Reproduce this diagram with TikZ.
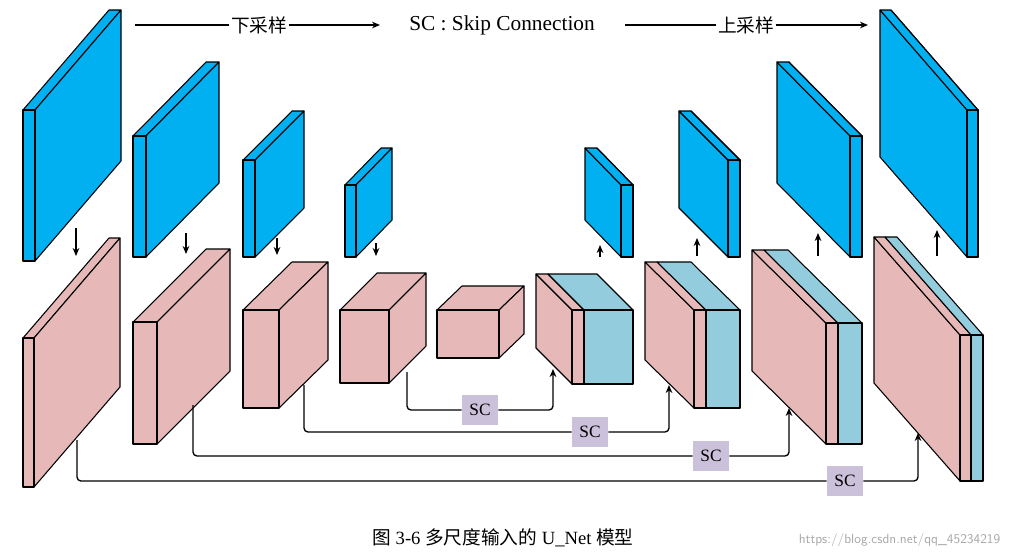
\documentclass[tikz,border=0pt]{standalone}
\usepackage{fontspec}
\setmainfont{Liberation Serif}
\newfontfamily\cjk{Noto Sans CJK SC}
\usetikzlibrary{arrows.meta}
\definecolor{cblue}{HTML}{00B0F0}
\definecolor{cpink}{HTML}{E6B9B8}
\definecolor{clb}{HTML}{93CDDD}
\definecolor{clav}{HTML}{CCC1DA}
\tikzset{face/.style={draw=black,line width=0.8pt,line join=round},
 arr/.style={-{Stealth[length=6pt,width=5pt]},line width=0.8pt},
 skip/.style={line width=1pt,rounded corners=3pt,-{Stealth[length=6pt,width=5pt]}},
 sc/.style={fill=clav,minimum width=27pt,minimum height=22pt,inner sep=0pt,font=\fontsize{13}{13}\selectfont}}
% encoder cube: x1 y1 x2 y2 dx dy color
\newcommand\cubeL[7]{%
 \filldraw[face,fill=#7] (#1,#2) -- ({#1+#5},{#2+#6}) -- ({#3+#5},{#2+#6}) -- (#3,#2) -- cycle;
 \filldraw[face,fill=#7] (#3,#2) -- ({#3+#5},{#2+#6}) -- ({#3+#5},{#4+#6}) -- (#3,#4) -- cycle;
 \filldraw[face,fill=#7] (#1,#2) rectangle (#3,#4);}
% decoder cube: x1 xm x2 y1 y2 dx dy c1 c2
\newcommand\cubeR[9]{%
 \filldraw[face,fill=#8] (#1,#4) -- ({#1+#6},{#4+#7}) -- ({#1+#6},{#5+#7}) -- (#1,#5) -- cycle;
 \filldraw[face,fill=#8] (#1,#4) -- ({#1+#6},{#4+#7}) -- ({#2+#6},{#4+#7}) -- (#2,#4) -- cycle;
 \filldraw[face,fill=#9] (#2,#4) -- ({#2+#6},{#4+#7}) -- ({#3+#6},{#4+#7}) -- (#3,#4) -- cycle;
 \filldraw[face,fill=#8] (#1,#4) rectangle (#2,#5);
 \filldraw[face,fill=#9] (#2,#4) rectangle (#3,#5);}
\begin{document}
\begin{tikzpicture}[x=0.75pt,y=-0.75pt]
\useasboundingbox (0,0) rectangle (1013,558);
% encoder
\cubeL{23}{110}{35}{261}{86}{-100}{cblue}
\cubeL{133}{136}{146}{257}{73}{-74}{cblue}
\cubeL{243}{160}{255}{257}{49}{-49}{cblue}
\cubeL{345}{185}{356}{257}{36}{-37}{cblue}
\cubeL{23}{338}{34}{487}{86}{-100}{cpink}
\cubeL{133}{322}{157}{444}{73}{-73}{cpink}
\cubeL{243}{310}{279}{408}{49}{-48}{cpink}
\cubeL{340}{310}{389}{383}{37}{-37}{cpink}
\cubeL{437}{310}{499}{358}{25}{-24}{cpink}
% decoder
\cubeR{621}{633}{633}{185}{257}{-36}{-37}{cblue}{cblue}
\cubeR{728}{740}{740}{160}{257}{-49}{-49}{cblue}{cblue}
\cubeR{850}{862}{862}{136}{257}{-73}{-74}{cblue}{cblue}
\cubeR{967}{978}{978}{110}{257}{-87}{-100}{cblue}{cblue}
\cubeR{572}{584}{633}{310}{384}{-36}{-36}{cpink}{clb}
\cubeR{694}{706}{740}{310}{408}{-49}{-48}{cpink}{clb}
\cubeR{826}{838}{862}{323}{444}{-74}{-73}{cpink}{clb}
\cubeR{960}{971}{983}{335}{481}{-86}{-98}{cpink}{clb}
% vertical arrows
\coordinate (d1a) at (76,228); \coordinate (d1b) at (76,256);
\coordinate (d2a) at (186,233); \coordinate (d2b) at (186,254);
\coordinate (d3a) at (277,238); \coordinate (d3b) at (277,255);
\coordinate (d4a) at (376,243); \coordinate (d4b) at (376,256);
\foreach \i in {1,...,4} \draw[arr] (d\i a) -- (d\i b);
\coordinate (u1a) at (600,257); \coordinate (u1b) at (600,245);
\coordinate (u2a) at (697,256); \coordinate (u2b) at (697,238);
\coordinate (u3a) at (818,256); \coordinate (u3b) at (818,233);
\coordinate (u4a) at (937,256); \coordinate (u4b) at (937,230);
\foreach \i in {1,...,4} \draw[arr] (u\i a) -- (u\i b);
% skip connections
\node[sc] (sc1) at (480,410) {SC};
\node[sc] (sc2) at (590,432) {SC};
\node[sc] (sc3) at (711,456) {SC};
\node[sc] (sc4) at (845,481) {SC};
\coordinate (s1a) at (407,372); \coordinate (s1b) at (553,369);
\coordinate (s2a) at (304,385); \coordinate (s2b) at (669,385);
\coordinate (s3a) at (193,405); \coordinate (s3b) at (789,408);
\coordinate (s4a) at (77,440); \coordinate (s4b) at (918,433);
\draw[skip] (s1a) |- (sc1.west) (sc1.east) -| (s1b);
\draw[skip] (s2a) |- (sc2.west) (sc2.east) -| (s2b);
\draw[skip] (s3a) |- (sc3.west) (sc3.east) -| (s3b);
\draw[skip] (s4a) |- (sc4.west) (sc4.east) -| (s4b);
% top labels
\node[font=\cjk\fontsize{14}{14}\selectfont,inner sep=1pt] (down) at (259,25) {下采样};
\node[font=\fontsize{16}{16}\selectfont] (title) at (502,25) {SC : Skip Connection};
\node[font=\cjk\fontsize{14}{14}\selectfont,inner sep=1pt] (up) at (746,25) {上采样};
\coordinate (t1) at (135,25); \coordinate (t2) at (380,25);
\coordinate (t3) at (625,25); \coordinate (t4) at (868,25);
\draw[line width=1.2pt] (t1) -- (down.west);
\draw[arr,line width=1.2pt] (down.east) -- (t2);
\draw[line width=1.2pt] (t3) -- (up.west);
\draw[arr,line width=1.2pt] (up.east) -- (t4);
% caption
\node[font=\fontsize{14}{14}\selectfont] (cap) at (503,538) {{\cjk 图} 3-6 {\cjk 多尺度输入的} U\_Net {\cjk 模型}};
\node[font=\sffamily\fontsize{10}{10}\selectfont,text=black!35,anchor=east] (wm) at (1005,540) {https://blog.csdn.net/qq\_45234219};
\end{tikzpicture}
\end{document}
